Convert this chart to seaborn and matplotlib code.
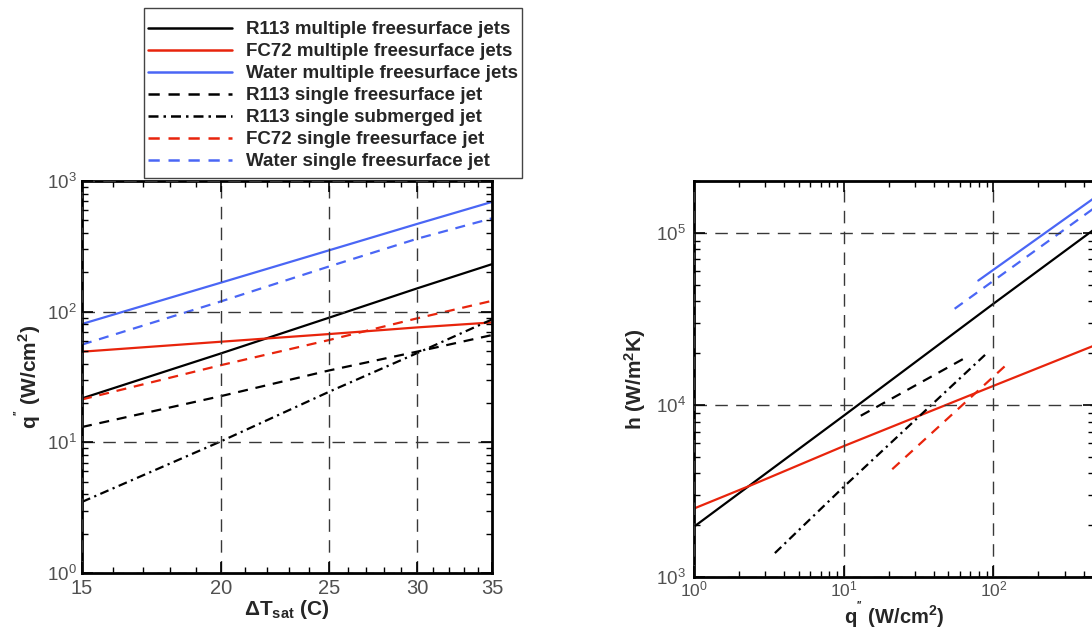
import numpy as np
import pandas as pd
import matplotlib
matplotlib.use("Agg")
import matplotlib.pyplot as plt
import matplotlib.ticker as mticker
from matplotlib.patches import Rectangle
import seaborn as sns

# ---------------- data ----------------
dT = [15, 20, 25, 30, 35]
q_r113_multi = [21.7, 48, 90, 151, 231]
q_fc72_multi = [49.4, 58.9, 67.4, 75.8, 82.7]
q_water_multi = [80.5, 167, 295, 470, 692]
q_r113_single = [13.1, 22.6, 35.5, 49.5, 66.2]
q_r113_subm = [3.5, 10.2, 24.4, 48.3, 87.2]
q_fc72_single = [21.3, 39, 60.7, 89, 121]
q_water_single = [56, 120, 222, 362, 518]

# right panel: heat transfer coefficient vs heat flux
hq_r113_multi = [1.0, 10, 100, 470]
h_r113_multi = [1960, 8650, 38700, 104500]
hq_fc72_multi = [1.0, 2.4, 10, 100, 470]
h_fc72_multi = [2500, 3410, 5760, 12900, 22100]
hq_water_multi = [79.3, 470]
h_water_multi = [52800, 159000]
hq_r113_single = [13.0, 63.6]
h_r113_single = [8650, 18600]
hq_r113_subm = [3.47, 10, 88.9]
h_r113_subm = [1377, 3340, 19700]
hq_fc72_single = [21.1, 123]
h_fc72_single = [4230, 17200]
hq_water_single = [55.1, 470]
h_water_single = [36200, 139000]

labels = ["R113 multiple freesurface jets",
          "FC72 multiple freesurface jets",
          "Water multiple freesurface jets",
          "R113 single freesurface jet",
          "R113 single submerged jet",
          "FC72 single freesurface jet",
          "Water single freesurface jet"]

dT_ticks = [15, 20, 25, 30, 35]

# ---------------- style ----------------
sns.set_theme(style="white")
plt.rcParams['font.family'] = ['Liberation Sans', 'DejaVu Sans']
plt.rcParams['mathtext.fontset'] = 'custom'
plt.rcParams['mathtext.rm'] = 'Liberation Sans'
plt.rcParams['mathtext.it'] = 'Liberation Sans'
plt.rcParams['mathtext.bf'] = 'Liberation Sans:bold'

BLACK = '#000000'
RED = '#e8240c'
BLUE = '#4a66f5'
DASH = (0, (4.5, 3.5))
DASHDOT = (0, (4, 2, 1, 2))
LW = 1.6

styles = [(BLACK, '-'), (RED, '-'), (BLUE, '-'),
          (BLACK, DASH), (BLACK, DASHDOT), (RED, DASH), (BLUE, DASH)]

W, H = 1092, 631
fig = plt.figure(figsize=(W / 100, H / 100), dpi=100)
axL = fig.add_axes([82 / W, 1 - 573 / H, 410 / W, 392 / H])
axR = fig.add_axes([694 / W, 1 - 577 / H, 400 / W, 396 / H])

left_series = [q_r113_multi, q_fc72_multi, q_water_multi, q_r113_single,
               q_r113_subm, q_fc72_single, q_water_single]
right_series = [(hq_r113_multi, h_r113_multi), (hq_fc72_multi, h_fc72_multi),
                (hq_water_multi, h_water_multi), (hq_r113_single, h_r113_single),
                (hq_r113_subm, h_r113_subm), (hq_fc72_single, h_fc72_single),
                (hq_water_single, h_water_single)]

for (c, ls), ys, lab in zip(styles, left_series, labels):
    sns.lineplot(x=dT, y=ys, ax=axL, color=c, linestyle=ls, linewidth=LW,
                 label=lab, legend=False)
for (c, ls), (xs, ys), lab in zip(styles, right_series, labels):
    sns.lineplot(x=xs, y=ys, ax=axR, color=c, linestyle=ls, linewidth=LW,
                 legend=False)


def pow_fmt(v, pos):
    if v <= 0:
        return ''
    e = int(round(np.log10(v)))
    return r'$10^{%d}$' % e


def style_axis(ax, xsize, ysize, xpad, ypad):
    for s in ax.spines.values():
        s.set_linewidth(2.0)
        s.set_color('black')
        s.set_visible(True)
    ax.tick_params(which='both', direction='in', top=True, right=True,
                   bottom=True, left=True, colors='black',
                   labelcolor='#505050')
    ax.tick_params(axis='x', labelsize=xsize, pad=xpad)
    ax.tick_params(axis='y', labelsize=ysize, pad=ypad)
    ax.tick_params(which='major', length=8, width=1.2)
    ax.tick_params(which='minor', length=4.5, width=1.0)
    ax.grid(True, which='major', linestyle=(0, (9, 6)), color='#383838',
            linewidth=1.0)
    ax.grid(False, which='minor')
    ax.set_axisbelow(False)


# left axis (log-log)
axL.set_xscale('log')
axL.set_yscale('log')
axL.set_xlim(15, 35)
axL.set_ylim(1, 1000)
axL.xaxis.set_major_locator(mticker.FixedLocator(dT_ticks))
axL.xaxis.set_minor_locator(mticker.FixedLocator([v for v in range(16, 35) if v not in dT_ticks]))
axL.xaxis.set_major_formatter(mticker.FuncFormatter(lambda v, p: '%d' % round(v)))
axL.xaxis.set_minor_formatter(mticker.NullFormatter())
axL.yaxis.set_major_locator(mticker.LogLocator(base=10, numticks=10))
axL.yaxis.set_minor_locator(mticker.LogLocator(base=10, subs=np.arange(2, 10), numticks=20))
axL.yaxis.set_major_formatter(mticker.FuncFormatter(pow_fmt))
axL.yaxis.set_minor_formatter(mticker.NullFormatter())
style_axis(axL, 14.5, 13.5, 4, 4)
axL.set_xlabel(r'ΔT$_{\mathbf{sat}}$ (C)', fontsize=15, fontweight='bold')
axL.set_ylabel(r"q$^{\mathbf{''}}$ (W/cm$^{\mathbf{2}}$)", fontsize=15,
               fontweight='bold')
axL.xaxis.set_label_coords(0.5, (573 - 598) / 392)
axL.yaxis.set_label_coords((44 - 82) / 410, 0.5)

# right axis (log-log)
axR.set_xscale('log')
axR.set_yscale('log')
axR.set_xlim(1, 470)
axR.set_ylim(1000, 2.0e5)
for a in (axR.xaxis, axR.yaxis):
    a.set_major_locator(mticker.LogLocator(base=10, numticks=10))
    a.set_minor_locator(mticker.LogLocator(base=10, subs=np.arange(2, 10), numticks=20))
    a.set_major_formatter(mticker.FuncFormatter(pow_fmt))
    a.set_minor_formatter(mticker.NullFormatter())
style_axis(axR, 12.5, 13.5, 2, 6)
axR.set_xlabel(r"q$^{\mathbf{''}}$ (W/cm$^{\mathbf{2}}$)", fontsize=14.5,
               fontweight='bold')
axR.set_ylabel(r"h (W/m$^{\mathbf{2}}$K)", fontsize=15, fontweight='bold')
axR.xaxis.set_label_coords(0.5, (577 - 601) / 396)
axR.yaxis.set_label_coords((648 - 694) / 400, 0.5)

# legend (frame drawn separately to match the box)
fig.patches.append(Rectangle((144 / W, 1 - 178 / H), (522 - 144) / W, 170 / H,
                             transform=fig.transFigure, fill=False,
                             edgecolor='#444444', linewidth=1.0))
handles, labs = axL.get_legend_handles_labels()
leg = fig.legend(handles, labs, loc='upper left',
                 bbox_to_anchor=(148 / W, 1 - 21 / H),
                 frameon=False, prop={'weight': 'bold', 'size': 13.5},
                 handlelength=4.5, handletextpad=0.72, labelspacing=0.26,
                 borderpad=0, borderaxespad=0)
for ln in leg.get_lines():
    ln.set_linewidth(1.8)

fig.savefig('out.png', dpi=100)
